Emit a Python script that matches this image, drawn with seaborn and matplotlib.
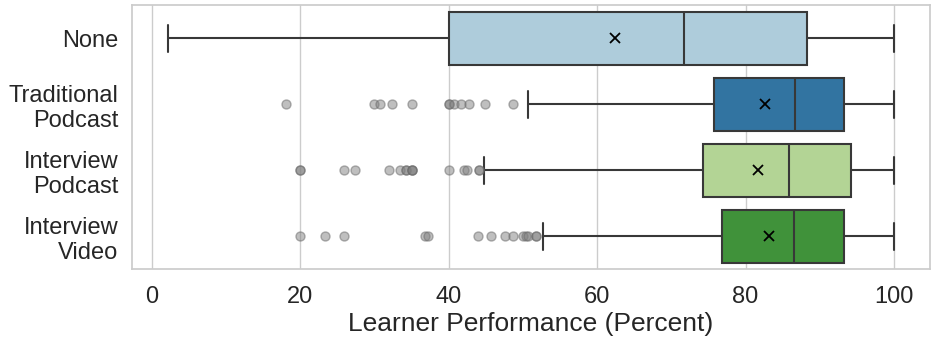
import numpy as np
import pandas as pd
import matplotlib
matplotlib.use("Agg")
import matplotlib.pyplot as plt
import seaborn as sns

# ---- data (score value, number of learners with that score) ----
conditions = ["None", "Traditional\nPodcast", "Interview\nPodcast", "Interview\nVideo"]

none_scores = [2.2, 5.0, 14.0, 22.0, 33.2, 40.0, 48.0, 55.0, 61.5, 67.0, 71.7,
               75.0, 79.0, 83.0, 86.0, 88.3, 91.0, 94.0, 96.5, 98.0, 100.0]
none_counts = [1] * len(none_scores)

trad_scores = [18.1, 30.0, 30.7, 32.4, 35.1, 40.0, 40.7, 41.7, 42.8, 44.9, 48.6,
               50.7, 55.0, 60.0, 65.0, 70.0, 73.0, 75.8, 78.0, 80.0, 83.0, 85.0,
               86.7, 88.0, 90.0, 91.5, 92.5, 93.2, 95.0, 97.0, 98.5, 100.0]
trad_counts = [1, 1, 1, 1, 1, 2, 1, 1, 1, 1, 1,
               1, 2, 4, 6, 10, 15, 1, 10, 12, 14, 13,
               1, 12, 14, 12, 11, 1, 12, 12, 8, 18]

ipod_scores = [20.0, 25.9, 27.4, 31.9, 33.5, 34.3, 35.1, 40.1, 42.0, 42.4, 44.1,
               44.8, 55.0, 62.0, 68.0, 72.0, 74.3, 77.0, 80.0, 82.0, 84.5,
               85.8, 87.0, 89.0, 91.0, 93.0, 94.2, 95.5, 97.0, 98.5, 100.0]
ipod_counts = [2, 1, 1, 1, 1, 2, 3, 1, 1, 1, 2,
               1, 1, 4, 8, 20, 1, 10, 13, 13, 13,
               1, 12, 13, 12, 12, 1, 12, 12, 8, 18]

ivid_scores = [20.0, 23.4, 25.9, 36.8, 37.2, 44.0, 45.7, 47.6, 48.6, 50.0, 50.4,
               50.7, 51.8, 52.7, 58.0, 63.0, 68.0, 72.0, 75.0, 76.8, 79.0, 81.5,
               83.5, 85.5, 86.5, 88.0, 90.0, 91.5, 92.5, 93.2, 95.0, 97.0, 98.5, 100.0]
ivid_counts = [1, 1, 1, 1, 1, 1, 1, 1, 1, 1, 1,
               1, 2, 1, 2, 4, 7, 10, 12, 1, 12, 12,
               13, 12, 1, 12, 13, 12, 12, 1, 12, 12, 8, 18]

xlabel = "Learner Performance (Percent)"
xticks = [0, 20, 40, 60, 80, 100]

# ---- build long table ----
frames = []
for cond, sc, ct in zip(conditions,
                        [none_scores, trad_scores, ipod_scores, ivid_scores],
                        [none_counts, trad_counts, ipod_counts, ivid_counts]):
    vals = np.repeat(np.array(sc, dtype=float), ct)
    frames.append(pd.DataFrame({"condition": cond, "score": vals}))
df = pd.concat(frames, ignore_index=True)

sns.set_theme(style="whitegrid")
plt.rcParams["font.family"] = ["Liberation Sans", "DejaVu Sans"]

fig = plt.figure(figsize=(9.35, 3.41), dpi=100)
ax = fig.add_axes([0.141, 0.210, 0.854, 0.774])

sns.boxplot(data=df, x="score", y="condition", hue="condition",
            order=conditions, hue_order=conditions, palette="Paired",
            legend=False, ax=ax, linewidth=1.5, linecolor="#383838",
            showmeans=True,
            meanprops=dict(marker="x", markeredgecolor="black",
                           markerfacecolor="black", markersize=6.5,
                           markeredgewidth=1.3),
            flierprops=dict(marker="o", markerfacecolor="gray",
                            markeredgecolor="dimgray", alpha=0.5,
                            markersize=6.5))

ax.set_xticks(xticks)
ax.set_xlabel(xlabel, fontsize=19, labelpad=3)
ax.set_ylabel("")
ax.tick_params(axis="x", labelsize=17, pad=6)
ax.tick_params(axis="y", labelsize=17)
for s in ax.spines.values():
    s.set_color("#cccccc")

fig.savefig("out.png", dpi=100)
